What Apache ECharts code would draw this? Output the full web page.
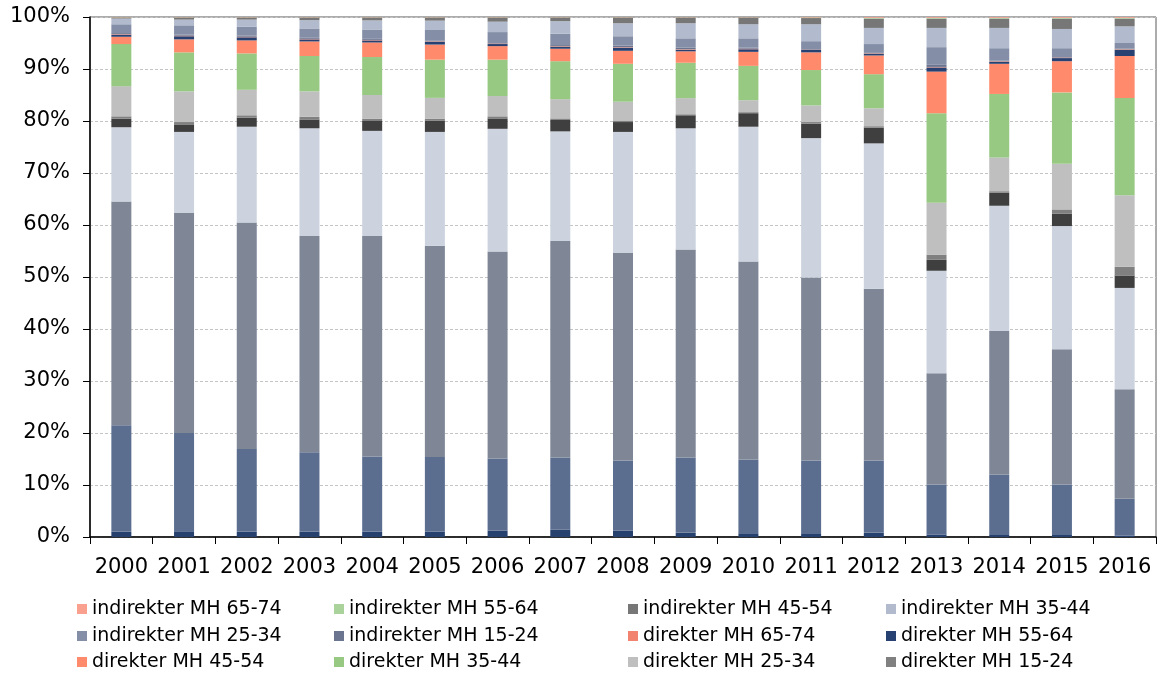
<!DOCTYPE html>
<html lang="de">
<head>
    <meta charset="UTF-8">
    <script src="https://cdn.jsdelivr.net/npm/echarts@6/dist/echarts.min.js"></script>
    <style>
        body, html {
            margin: 0;
            padding: 0;
            width: 100%;
            height: 100%;
            background: #fff;
        }
        #chart {
            width: 1162px;
            height: 675px;
        }
    </style>
</head>
<body>
    <div id="chart"></div>
    <script>
        const years = ['2000', '2001', '2002', '2003', '2004', '2005', '2006', '2007', '2008',
                       '2009', '2010', '2011', '2012', '2013', '2014', '2015', '2016'];

        // Anteile in %, von unten nach oben gestapelt
        // ohne MH (nicht in der Legende)
        const ohne1524 = [1.0, 1.1, 1.0, 1.0, 1.0, 1.0, 1.2, 1.4, 1.2, 0.8, 0.6, 0.6, 0.8, 0.45, 0.4, 0.4, 0.25];
        const ohne2534 = [20.5, 18.9, 15.9, 15.3, 14.5, 14.4, 13.9, 13.9, 13.5, 14.5, 14.3, 14.1, 13.9, 9.65, 11.6, 9.7, 7.1];
        const ohne3544 = [43.0, 42.3, 43.6, 41.6, 42.4, 40.6, 39.8, 41.6, 39.9, 40.0, 38.1, 35.2, 33.05, 21.4, 27.6, 26.0, 21.05];
        const ohne4554 = [14.3, 15.6, 18.4, 20.7, 20.2, 21.9, 23.6, 21.1, 23.3, 23.3, 25.9, 26.8, 27.95, 19.7, 24.1, 23.7, 19.5];
        const ohne5564 = [1.65, 1.45, 1.75, 1.7, 1.9, 2.2, 2.0, 2.2, 1.9, 2.5, 2.6, 2.8, 3.0, 2.1, 2.5, 2.4, 2.4];

        const dir1524 = [0.45, 0.45, 0.45, 0.5, 0.4, 0.3, 0.4, 0.3, 0.3, 0.2, 0.2, 0.3, 0.3, 1.0, 0.3, 0.8, 1.7];
        const dir2534 = [5.8, 5.9, 4.9, 4.9, 4.6, 4.05, 3.9, 3.7, 3.6, 3.1, 2.3, 3.2, 3.45, 10.0, 6.5, 8.8, 13.7];
        const dir3544 = [8.1, 7.5, 7.0, 6.8, 7.3, 7.35, 7.0, 7.3, 7.3, 6.8, 6.6, 6.8, 6.55, 17.2, 12.2, 13.7, 18.7];
        const dir4554 = [1.4, 2.5, 2.5, 2.8, 2.8, 2.9, 2.6, 2.4, 2.5, 2.2, 2.7, 3.4, 3.6, 8.0, 5.8, 6.0, 8.1];
        const dir5564 = [0.4, 0.6, 0.6, 0.4, 0.4, 0.5, 0.4, 0.4, 0.6, 0.3, 0.5, 0.5, 0.3, 0.8, 0.4, 0.6, 1.2];
        const dir6574 = [0.1, 0.1, 0.1, 0.1, 0.1, 0.1, 0.1, 0.1, 0.1, 0.1, 0.1, 0.05, 0.1, 0.1, 0.1, 0.1, 0.1];

        const ind1524 = [0.2, 0.2, 0.25, 0.2, 0.2, 0.2, 0.1, 0.2, 0.3, 0.3, 0.2, 0.1, 0.1, 0.4, 0.1, 0.1, 0.1];
        const ind2534 = [1.7, 1.8, 1.65, 1.8, 1.8, 2.0, 2.1, 2.2, 1.8, 1.8, 1.8, 1.5, 1.7, 3.4, 2.4, 1.7, 1.1];
        const ind3544 = [1.1, 1.1, 1.4, 1.6, 1.75, 1.8, 2.0, 2.4, 2.5, 2.9, 2.7, 3.25, 3.1, 3.7, 3.9, 3.7, 3.2];
        const ind4554 = [0.2, 0.4, 0.4, 0.5, 0.55, 0.6, 0.8, 0.7, 1.1, 1.1, 1.3, 1.2, 1.8, 1.8, 1.8, 2.0, 1.5];
        const ind5564 = [0.05, 0.05, 0.05, 0.05, 0.05, 0.05, 0.05, 0.05, 0.05, 0.05, 0.05, 0.1, 0.15, 0.15, 0.15, 0.15, 0.15];
        const ind6574 = [0.05, 0.05, 0.05, 0.05, 0.05, 0.05, 0.05, 0.05, 0.05, 0.05, 0.05, 0.1, 0.15, 0.15, 0.15, 0.15, 0.15];

        const yTicks = ['0%', '10%', '20%', '30%', '40%', '50%', '60%', '70%', '80%', '90%', '100%'];

        // Stapelreihenfolge von unten nach oben
        const stack = [
            ['ohne MH 15-24', ohne1524, '#27416f'],
            ['ohne MH 25-34', ohne2534, '#5b6e90'],
            ['ohne MH 35-44', ohne3544, '#7f8797'],
            ['ohne MH 45-54', ohne4554, '#ccd3df'],
            ['ohne MH 55-64', ohne5564, '#3f3f3f'],
            ['direkter MH 15-24', dir1524, '#808080'],
            ['direkter MH 25-34', dir2534, '#bfbfbf'],
            ['direkter MH 35-44', dir3544, '#97c983'],
            ['direkter MH 45-54', dir4554, '#ff8a6c'],
            ['direkter MH 55-64', dir5564, '#264172'],
            ['direkter MH 65-74', dir6574, '#f2836e'],
            ['indirekter MH 15-24', ind1524, '#6c7590'],
            ['indirekter MH 25-34', ind2534, '#848ea6'],
            ['indirekter MH 35-44', ind3544, '#b1bbcd'],
            ['indirekter MH 45-54', ind4554, '#777777'],
            ['indirekter MH 55-64', ind5564, '#a9d39a'],
            ['indirekter MH 65-74', ind6574, '#f9a08f']
        ];

        // Legende: 4 Spalten x 3 Zeilen, zeilenweise
        const legendNames = [
            'indirekter MH 65-74', 'indirekter MH 55-64', 'indirekter MH 45-54', 'indirekter MH 35-44',
            'indirekter MH 25-34', 'indirekter MH 15-24', 'direkter MH 65-74', 'direkter MH 55-64',
            'direkter MH 45-54', 'direkter MH 35-44', 'direkter MH 25-34', 'direkter MH 15-24'
        ];
        const colX = [77, 334, 628, 886];
        const rowY = [609, 636, 662];

        const fontFamily = 'DejaVu Sans';

        const series = stack.map(s => ({
            name: s[0],
            type: 'bar',
            stack: 'total',
            barWidth: 20,
            data: s[1],
            itemStyle: { color: s[2] }
        }));

        const legend = legendNames.map((name, i) => ({
            orient: 'horizontal',
            left: colX[i % 4],
            top: rowY[Math.floor(i / 4)] - 10,
            padding: 0,
            itemWidth: 10,
            itemHeight: 10,
            icon: 'rect',
            selectedMode: false,
            data: [name],
            textStyle: { fontFamily: fontFamily, fontSize: 19, color: '#000', lineHeight: 20 }
        }));

        const chart = echarts.init(document.getElementById('chart'), null, { renderer: 'canvas' });
        chart.setOption({
            animation: false,
            backgroundColor: '#fff',
            grid: {
                left: 90,
                right: 6,
                top: 17,
                bottom: 138,
                show: true,
                borderColor: '#595959',
                borderWidth: 1
            },
            legend: legend,
            xAxis: {
                type: 'category',
                data: years,
                axisLine: { lineStyle: { color: '#000', width: 1.5 } },
                axisTick: { show: true, length: 7, lineStyle: { color: '#000' } },
                axisLabel: { fontFamily: fontFamily, fontSize: 21, color: '#000', margin: 20, interval: 0 }
            },
            yAxis: {
                type: 'value',
                min: 0,
                max: 100,
                interval: 10,
                axisLine: { show: true, lineStyle: { color: '#000', width: 1.5 } },
                axisTick: { show: true, length: 7, lineStyle: { color: '#000' } },
                axisLabel: {
                    fontFamily: fontFamily,
                    fontSize: 21,
                    color: '#000',
                    margin: 20,
                    formatter: v => yTicks[Math.round(v / 10)]
                },
                splitLine: { show: true, lineStyle: { color: '#c4c4c4', type: [3, 2], width: 1 } }
            },
            series: series
        });
    </script>
</body>
</html>
